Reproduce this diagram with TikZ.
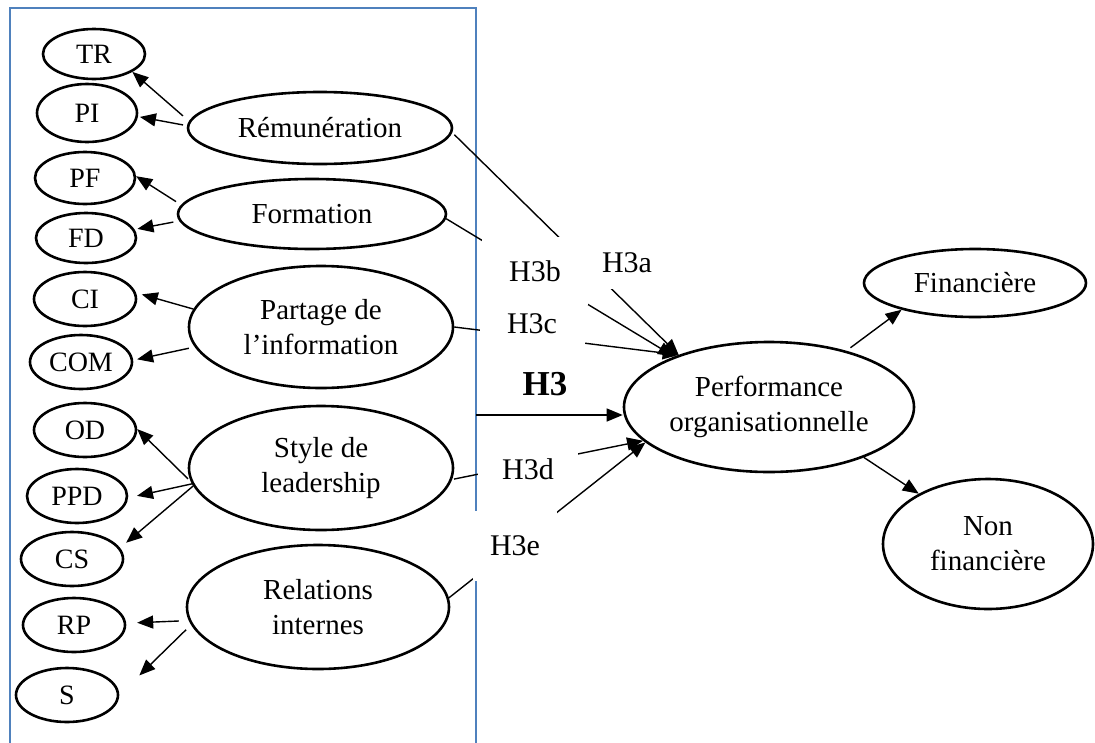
\documentclass[tikz,border=0pt]{standalone}
\usepackage{fontspec}
\setmainfont{Liberation Serif}
\usetikzlibrary{shapes.geometric,arrows.meta,calc}

\definecolor{framecol}{RGB}{79,129,189}

\begin{document}
\begin{tikzpicture}[x=1pt,y=-1pt,
  oval/.style={draw, ellipse, line width=2.6pt, inner sep=0pt, align=center,
               font=\fontsize{29}{35}\selectfont},
  ind/.style={oval, font=\fontsize{28}{34}\selectfont},
  link/.style={line width=1.4pt},
  tip/.style={-{Triangle[length=16pt,width=13pt]}},
  hyp/.style={fill=white, inner sep=0pt, font=\fontsize{30}{36}\selectfont},
]
\useasboundingbox (0,0) rectangle (1095,742);
\clip (0,0) rectangle (1095,742);

% frame around the dimensions of HRM practices
\draw[framecol, line width=2.8pt] (10,760) -- (10,8) -- (476,8) -- (476,760);
\coordinate (hsrc) at (476,415);

% indicators
\node[ind, minimum width=102pt, minimum height=50pt] (TR)  at (94,54)  {TR};
\node[ind, minimum width=100pt, minimum height=58pt] (PI)  at (87,113) {PI};
\node[ind, minimum width=100pt, minimum height=52pt] (PF)  at (85,178) {PF};
\node[ind, minimum width=100pt, minimum height=50pt] (FD)  at (86,238) {FD};
\node[ind, minimum width=102pt, minimum height=54pt] (CI)  at (85,299) {CI};
\node[ind, minimum width=102pt, minimum height=54pt] (COM) at (81,362) {COM};
\node[ind, minimum width=102pt, minimum height=54pt] (OD)  at (85,430) {OD};
\node[ind, minimum width=100pt, minimum height=54pt] (PPD) at (77,496) {PPD};
\node[ind, minimum width=102pt, minimum height=54pt] (CS)  at (72,559) {CS};
\node[ind, minimum width=102pt, minimum height=54pt] (RP)  at (74,625) {RP};
\node[ind, minimum width=102pt, minimum height=54pt] (S)   at (67,695) {S};

% dimensions
\node[oval, minimum width=264pt, minimum height=72pt]  (Rem)   at (320,128) {Rémunération};
\node[oval, minimum width=268pt, minimum height=70pt]  (Form)  at (312,214) {Formation};
\node[oval, minimum width=264pt, minimum height=122pt] (Part)  at (321,327) {Partage de\\l’information};
\node[oval, minimum width=264pt, minimum height=124pt] (Style) at (321,468) {Style de\\leadership};
\node[oval, minimum width=262pt, minimum height=124pt] (Rel)   at (318,607) {Relations\\internes};

% outcome
\node[oval, minimum width=290pt, minimum height=130pt] (PO)  at (769,407) {Performance\\organisationnelle};
\node[oval, minimum width=222pt, minimum height=68pt]  (Fin) at (975,283) {Financière};
\node[oval, minimum width=210pt, minimum height=130pt] (Non) at (988,544) {Non\\financière};

% dimensions to indicators
\draw[link,tip,shorten <=8pt]             (Rem.177)   -- (TR.-25);
\draw[link,tip,shorten <=4pt,shorten >=2pt] (Rem.179)   -- (PI.-4);
\draw[link,tip,shorten <=6pt]             (Form.176)  -- (PF.2);
\draw[link,tip,shorten <=6pt,shorten >=3pt] (Form.183)  -- (FD.10);
\draw[link,tip,shorten >=6pt]             (Part.172)  -- (CI.7);
\draw[link,tip,shorten <=6pt,shorten >=4pt] (Part.189)  -- (COM.2);
\draw[link,tip,shorten <=4pt]             (Style.186) -- (OD.1);
\draw[link,tip,shorten >=9pt]             (Style.187) -- (PPD.-2);
\draw[link,tip,shorten >=8pt]             (Style.188) -- (CS.13);
\draw[link,tip,shorten <=10pt,shorten >=11pt] (Rel.186) -- (RP.2);
\draw[link,tip,shorten <=7pt,shorten >=28pt]  (Rel.188) -- (S.0);

% hypotheses
\draw[link,tip,shorten <=3pt] (Rem.-2)   -- (PO.150);
\draw[link,tip]               (Form.-2)  -- (PO.152);
\draw[link,tip]               (Part.0)   -- (PO.150);
\draw[link,tip]               (hsrc)     -- (hsrc -| PO.west);
\draw[link,tip,shorten <=2pt] (Style.-5) -- (PO.195);
\draw[link,tip]               (Rel.4)    -- (PO.196);

% outcome dimensions
\draw[link,tip,shorten <=5pt] (PO.36)  -- (Fin.200);
\draw[link,tip]               (PO.-28) -- (Non.144);

% hypothesis labels
\node[hyp, minimum width=126pt, minimum height=52pt] (la) at (627,263) {H3a};
\node[hyp, minimum width=106pt, minimum height=68pt] (lb) at (535,271) {H3b};
\node[hyp, minimum width=105pt, minimum height=50pt] (lc) at (532,324) {H3c};
\node[font=\fontsize{35}{40}\selectfont\bfseries] (lh) at (545,384) {H3};
\node[hyp, minimum width=100pt, minimum height=48pt] (ld) at (528,469) {H3d};
\node[hyp, minimum width=84pt,  minimum height=70pt] (le) at (515,546) {H3e};
\end{tikzpicture}
\end{document}
